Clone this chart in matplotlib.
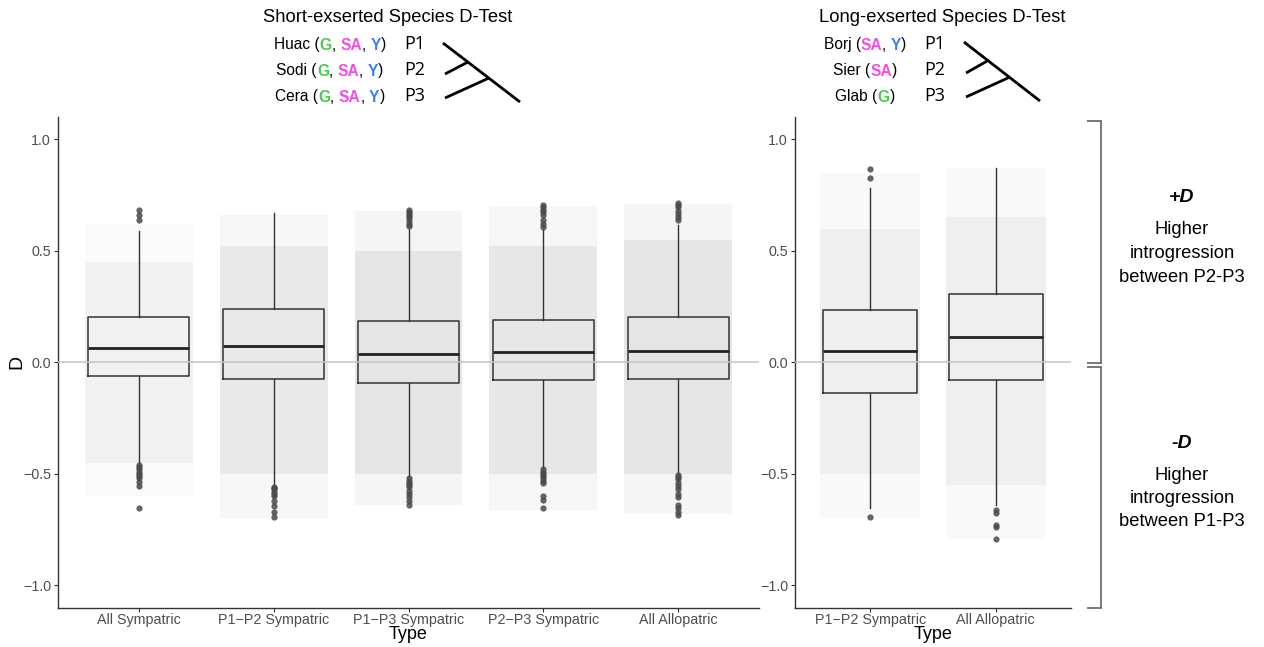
import matplotlib
matplotlib.use("Agg")
import matplotlib.pyplot as plt
from matplotlib.lines import Line2D

# ---------------- data ----------------
left_categories = ["All Sympatric", "P1\u2212P2 Sympatric", "P1\u2212P3 Sympatric",
                   "P2\u2212P3 Sympatric", "All Allopatric"]
left_q1 = [-0.061, -0.076, -0.091, -0.079, -0.076]
left_med = [0.063, 0.073, 0.036, 0.046, 0.051]
left_q3 = [0.202, 0.239, 0.187, 0.190, 0.205]
left_whislo = [-0.45, -0.555, -0.513, -0.475, -0.50]
left_whishi = [0.59, 0.668, 0.60, 0.593, 0.616]
left_fliers = [
    [0.683, 0.66, 0.64, -0.46, -0.47, -0.48, -0.49, -0.50, -0.51, -0.52, -0.535, -0.555, -0.653],
    [-0.56, -0.565, -0.57, -0.58, -0.59, -0.60, -0.62, -0.645, -0.67, -0.695],
    [0.683, 0.675, 0.665, 0.655, 0.645, 0.635, 0.62, 0.61,
     -0.52, -0.53, -0.54, -0.55, -0.56, -0.575, -0.59, -0.605, -0.62, -0.64],
    [0.705, 0.695, 0.685, 0.675, 0.66, 0.64, 0.62, 0.605,
     -0.48, -0.49, -0.50, -0.51, -0.52, -0.53, -0.54, -0.60, -0.615, -0.655],
    [0.715, 0.705, 0.695, 0.68, 0.665, 0.65, 0.64,
     -0.505, -0.515, -0.525, -0.54, -0.555, -0.57, -0.59, -0.605, -0.64, -0.655, -0.67, -0.685],
]
# extent of the jittered point cloud (outer = sparse tail, core = dense part)
left_cloud_lo = [-0.60, -0.70, -0.64, -0.66, -0.68]
left_cloud_hi = [0.62, 0.66, 0.68, 0.70, 0.71]
left_core_lo = [-0.45, -0.50, -0.50, -0.50, -0.50]
left_core_hi = [0.45, 0.52, 0.50, 0.52, 0.55]
left_n_points = [600, 1900, 2500, 2100, 2500]

right_categories = ["P1\u2212P2 Sympatric", "All Allopatric"]
right_q1 = [-0.136, -0.079]
right_med = [0.052, 0.115]
right_q3 = [0.233, 0.306]
right_whislo = [-0.655, -0.64]
right_whishi = [0.78, 0.87]
right_fliers = [[0.865, 0.825, -0.692], [-0.66, -0.677, -0.73, -0.737, -0.79]]
right_cloud_lo = [-0.70, -0.79]
right_cloud_hi = [0.85, 0.87]
right_core_lo = [-0.50, -0.55]
right_core_hi = [0.60, 0.65]
right_n_points = [900, 950]

y_ticks = [-1.0, -0.5, 0.0, 0.5, 1.0]

# ---------------- figure ----------------
W, H = 1264, 647
fig = plt.figure(figsize=(W / 100, H / 100), dpi=100)
plt.rcParams["font.family"] = ["Liberation Sans", "DejaVu Sans"]

def fx(px):
    return px / W

def fy(py):
    return 1 - py / H

ax_l = fig.add_axes([fx(58), fy(607.7), fx(759) - fx(58), fy(117) - fy(607.7)])
ax_r = fig.add_axes([fx(795), fy(607.7), fx(1071) - fx(795), fy(117) - fy(607.7)])


def draw_panel(ax, cats, q1, med, q3, wlo, whi, fliers, clo, chi, klo, khi, npts):
    pos = list(range(1, len(cats) + 1))
    stats = []
    for i in range(len(cats)):
        stats.append(dict(med=med[i], q1=q1[i], q3=q3[i], whislo=wlo[i], whishi=whi[i],
                          fliers=fliers[i], label=cats[i]))
    ax.bxp(stats, positions=pos, widths=0.75, showcaps=False, patch_artist=False,
           boxprops=dict(color="#333333", linewidth=1.1),
           whiskerprops=dict(color="#333333", linewidth=1.0),
           medianprops=dict(color="#222222", linewidth=2.0),
           flierprops=dict(marker="o", markersize=4.5, markerfacecolor="#4A4A4A",
                           markeredgecolor="none", alpha=0.85),
           zorder=3)
    for i, p in enumerate(pos):
        a = 0.06 + 0.11 * npts[i] / 2500
        ax.fill_between([p - 0.4, p + 0.4], clo[i], chi[i], color="#9A9A9A",
                        alpha=a * 0.55, linewidth=0, zorder=1)
        ax.fill_between([p - 0.4, p + 0.4], klo[i], khi[i], color="#9A9A9A",
                        alpha=a, linewidth=0, zorder=1)
    ax.axhline(0, color="#C4C4C4", linewidth=1.1, zorder=4)
    ax.set_xlim(0.4, len(cats) + 0.6)
    ax.set_ylim(-1.1, 1.1)
    ax.set_xticks(pos)
    ax.set_xticklabels(cats)
    ax.set_yticks(y_ticks)
    ax.set_yticklabels([f"{v:.1f}".replace("-", "\u2212") for v in y_ticks])
    for s in ["top", "right"]:
        ax.spines[s].set_visible(False)
    for s in ["left", "bottom"]:
        ax.spines[s].set_color("#333333")
        ax.spines[s].set_linewidth(1.0)
    ax.tick_params(axis="both", colors="#333333", length=3, width=0.8,
                   labelsize=10.3, labelcolor="#4D4D4D", pad=2)
    ax.tick_params(axis="x", pad=1)
    ax.set_xlabel("Type", fontsize=13, color="black", labelpad=-1)


draw_panel(ax_l, left_categories, left_q1, left_med, left_q3, left_whislo, left_whishi,
           left_fliers, left_cloud_lo, left_cloud_hi, left_core_lo, left_core_hi,
           left_n_points)
draw_panel(ax_r, right_categories, right_q1, right_med, right_q3, right_whislo, right_whishi,
           right_fliers, right_cloud_lo, right_cloud_hi, right_core_lo, right_core_hi,
           right_n_points)
fig.text(fx(17), fy(362), "D", fontsize=14, rotation=90, ha="center", va="center")

# ---------------- header annotations ----------------
renderer = fig.canvas.get_renderer()
G_COL, SA_COL, Y_COL = "#4CC94C", "#F04FE0", "#3B80E6"


def colored_row(xc, y, pieces, size=11.2):
    texts = []
    widths = []
    for s, c, bold in pieces:
        t = fig.text(0, fy(y), s, color=c, fontsize=size, va="center", ha="left",
                     fontweight="bold" if bold else "normal")
        widths.append(t.get_window_extent(renderer).width)
        texts.append(t)
    total = sum(widths)
    x = xc - total / 2
    for t, w in zip(texts, widths):
        t.set_x(fx(x))
        x += w


fig.text(fx(388), fy(17), "Short-exserted Species D-Test", fontsize=13.2, ha="center", va="center")
fig.text(fx(942), fy(17), "Long-exserted Species D-Test", fontsize=13.2, ha="center", va="center")

K = "black"
left_rows = [
    ("Huac", [("G", G_COL), ("SA", SA_COL), ("Y", Y_COL)]),
    ("Sodi", [("G", G_COL), ("SA", SA_COL), ("Y", Y_COL)]),
    ("Cera", [("G", G_COL), ("SA", SA_COL), ("Y", Y_COL)]),
]
right_rows = [
    ("Borj", [("SA", SA_COL), ("Y", Y_COL)]),
    ("Sier", [("SA", SA_COL)]),
    ("Glab", [("G", G_COL)]),
]
row_y = [45, 71, 97]


def build_pieces(name, tags):
    pieces = [(name + " (", K, False)]
    for j, (tg, col) in enumerate(tags):
        if j > 0:
            pieces.append((", ", K, False))
        pieces.append((tg, col, True))
    pieces.append((")", K, False))
    return pieces


for (name, tags), y in zip(left_rows, row_y):
    colored_row(330, y, build_pieces(name, tags))
for (name, tags), y in zip(right_rows, row_y):
    colored_row(865, y, build_pieces(name, tags))

for lab, y in zip(["P1", "P2", "P3"], row_y):
    fig.text(fx(404), fy(y - 1), lab, fontsize=13, ha="left", va="center",
             family=["Open Sans", "DejaVu Sans"])
    fig.text(fx(924), fy(y - 1), lab, fontsize=13, ha="left", va="center",
             family=["Open Sans", "DejaVu Sans"])


def seg(x0, y0, x1, y1, color="black", lw=2.0):
    fig.add_artist(Line2D([fx(x0), fx(x1)], [fy(y0), fy(y1)], color=color, linewidth=lw,
                          solid_capstyle="butt"))


# trees
seg(443, 43, 520, 102)
seg(445, 74, 468, 62)
seg(445, 98, 489, 78)
seg(964, 42, 1040, 101)
seg(966, 73, 989, 60)
seg(966, 97, 1010, 77)

# brackets on the right
BR = "#6E6E6E"
seg(1101, 121, 1101, 363, BR, 1.3)
seg(1087, 121, 1101.6, 121, BR, 1.3)
seg(1087, 363, 1101.6, 363, BR, 1.3)
seg(1101, 367, 1101, 608, BR, 1.3)
seg(1087, 367, 1101.6, 367, BR, 1.3)
seg(1087, 608, 1101.6, 608, BR, 1.3)

fig.text(fx(1182), fy(198), "+D", fontsize=14, fontweight="bold", fontstyle="italic",
         ha="center", va="center")
for i, s in enumerate(["Higher", "introgression", "between P2-P3"]):
    fig.text(fx(1182), fy(230 + 23.5 * i), s, fontsize=13.2, ha="center", va="center")
fig.text(fx(1182), fy(443), "-D", fontsize=14, fontweight="bold", fontstyle="italic",
         ha="center", va="center")
for i, s in enumerate(["Higher", "introgression", "between P1-P3"]):
    fig.text(fx(1182), fy(475 + 23.5 * i), s, fontsize=13.2, ha="center", va="center")

fig.savefig("out.png", dpi=100)
